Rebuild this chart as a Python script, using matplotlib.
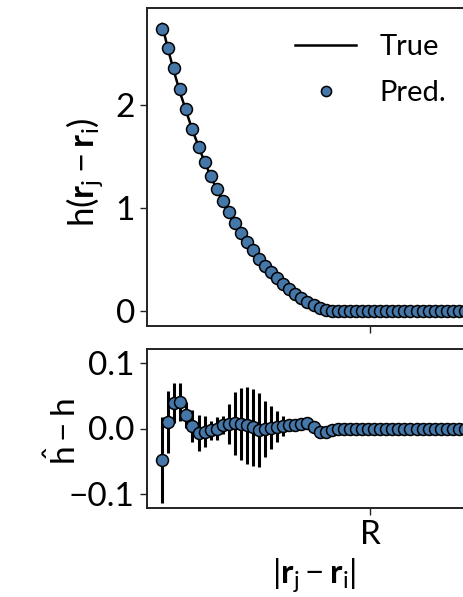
import matplotlib
matplotlib.use("Agg")
import matplotlib.pyplot as plt
import numpy as np

plt.rcParams['font.family'] = ['Lato', 'DejaVu Sans']
plt.rcParams['mathtext.fontset'] = 'custom'
plt.rcParams['mathtext.rm'] = 'Lato'
plt.rcParams['mathtext.bf'] = 'Lato:bold'
plt.rcParams['mathtext.it'] = 'Lato:italic'

# distance grid (in units of R)
r = [0.066, 0.093, 0.121, 0.148, 0.175, 0.202, 0.230, 0.257, 0.284, 0.311,
     0.338, 0.366, 0.393, 0.420, 0.447, 0.475, 0.502, 0.529, 0.556, 0.583,
     0.611, 0.638, 0.665, 0.692, 0.719, 0.747, 0.774, 0.801, 0.828, 0.856,
     0.883, 0.910, 0.937, 0.964, 0.992, 1.019, 1.046, 1.073, 1.101, 1.128,
     1.155, 1.182, 1.209, 1.237, 1.264, 1.291, 1.318, 1.345, 1.373, 1.400,
     1.427]

h_true = [2.791, 2.545, 2.321, 2.119, 1.940, 1.762, 1.601, 1.450, 1.315, 1.182,
          1.063, 0.951, 0.849, 0.753, 0.667, 0.586, 0.508, 0.436, 0.373, 0.315,
          0.259, 0.206, 0.160, 0.120, 0.077, 0.051, 0.031, 0.015, 0.002, 0.000,
          0.000, 0.000, 0.000, 0.000, 0.000, 0.000, 0.000, 0.000, 0.000, 0.000,
          0.000, 0.000, 0.000, 0.000, 0.000, 0.000, 0.000, 0.000, 0.000, 0.000,
          0.000]

diff = [-0.048, 0.010, 0.039, 0.040, 0.021, 0.004, -0.007, -0.005, -0.003, 0.000,
        0.005, 0.007, 0.008, 0.007, 0.005, 0.002, -0.002, -0.001, 0.001, 0.003,
        0.004, 0.005, 0.006, 0.007, 0.008, 0.002, -0.005, -0.005, -0.002, 0.000,
        0.000, 0.000, 0.000, 0.000, 0.000, 0.000, 0.000, 0.000, 0.000, 0.000,
        0.000, 0.000, 0.000, 0.000, 0.000, 0.000, 0.000, 0.000, 0.000, 0.000,
        0.000]

err = [0.066, 0.047, 0.031, 0.029, 0.020, 0.024, 0.028, 0.024, 0.015, 0.018,
       0.014, 0.031, 0.048, 0.055, 0.059, 0.059, 0.057, 0.043, 0.033, 0.023,
       0.015, 0.008, 0.004, 0.003, 0.002, 0.001, 0.001, 0.000, 0.000, 0.000,
       0.000, 0.000, 0.000, 0.000, 0.000, 0.000, 0.000, 0.000, 0.000, 0.000,
       0.000, 0.000, 0.000, 0.000, 0.000, 0.000, 0.000, 0.000, 0.000, 0.000,
       0.000]

R_pos = 1.0
h_pred = [a + b for a, b in zip(h_true, diff)]

W, H = 463, 597
fig = plt.figure(figsize=(W / 100, H / 100), dpi=100)

left = 147.3 / W
width = 334.0 / W
ax1 = fig.add_axes([left, 1 - 325.7 / H, width, (325.7 - 8.3) / H])
ax2 = fig.add_axes([left, 1 - 507.7 / H, width, (507.7 - 349.3) / H])

mcol = '#4577a8'
fs = 24
ms = 8.6

ax1.plot(r, h_true, color='black', lw=1.8, label='True', zorder=2)
ax1.plot(r, h_pred, 'o', ms=ms, mfc=mcol, mec='black', mew=1.1,
         label='Pred.', zorder=3)
ax1.set_xlim(0, 1.5)
ax1.set_ylim(-0.146, 2.944)
ax1.set_yticks([0, 1, 2])
ax1.set_xticks([R_pos])
ax1.set_xticklabels([])
ax1.set_ylabel(r'$\mathrm{h}(\mathbf{r}_{\mathrm{j}} - \mathbf{r}_{\mathrm{i}})$',
               fontsize=25)
ax1.yaxis.set_label_coords((106 - 147.3) / 334.0, 0.485)

leg = ax1.legend(loc='upper left', bbox_to_anchor=(295 / W, 1 - 34 / H),
                 bbox_transform=fig.transFigure, frameon=False, fontsize=21,
                 handlelength=2.1, handletextpad=0.8, labelspacing=0.69,
                 borderpad=0, borderaxespad=0, markerscale=0.85)

ax2.vlines(r, [d - e for d, e in zip(diff, err)], [d + e for d, e in zip(diff, err)],
           color='black', lw=2.2, zorder=2)
ax2.plot(r, diff, 'o', ms=ms, mfc=mcol, mec='black', mew=1.1, zorder=3)
ax2.set_xlim(0, 1.5)
ax2.set_ylim(-0.121, 0.121)
ax2.set_yticks([-0.1, 0.0, 0.1])
ax2.set_yticklabels(['\u22120.1', '0.0', '0.1'])
ax2.set_xticks([R_pos])
ax2.set_xticklabels(['R'])
ax2.set_ylabel(r'$\hat{\mathrm{h}} - \mathrm{h}$', fontsize=fs)
ax2.yaxis.set_label_coords((82 - 147.3) / 334.0, 0.48)
ax2.set_xlabel(r'$|\mathbf{r}_{\mathrm{j}} - \mathbf{r}_{\mathrm{i}}|$', fontsize=fs,
               labelpad=4)

for ax in (ax1, ax2):
    ax.tick_params(labelsize=fs, length=5, width=1.0, color='#222222', pad=4)
    for s in ax.spines.values():
        s.set_linewidth(1.4)
        s.set_color('#222222')

fig.savefig('out.png', dpi=100)
